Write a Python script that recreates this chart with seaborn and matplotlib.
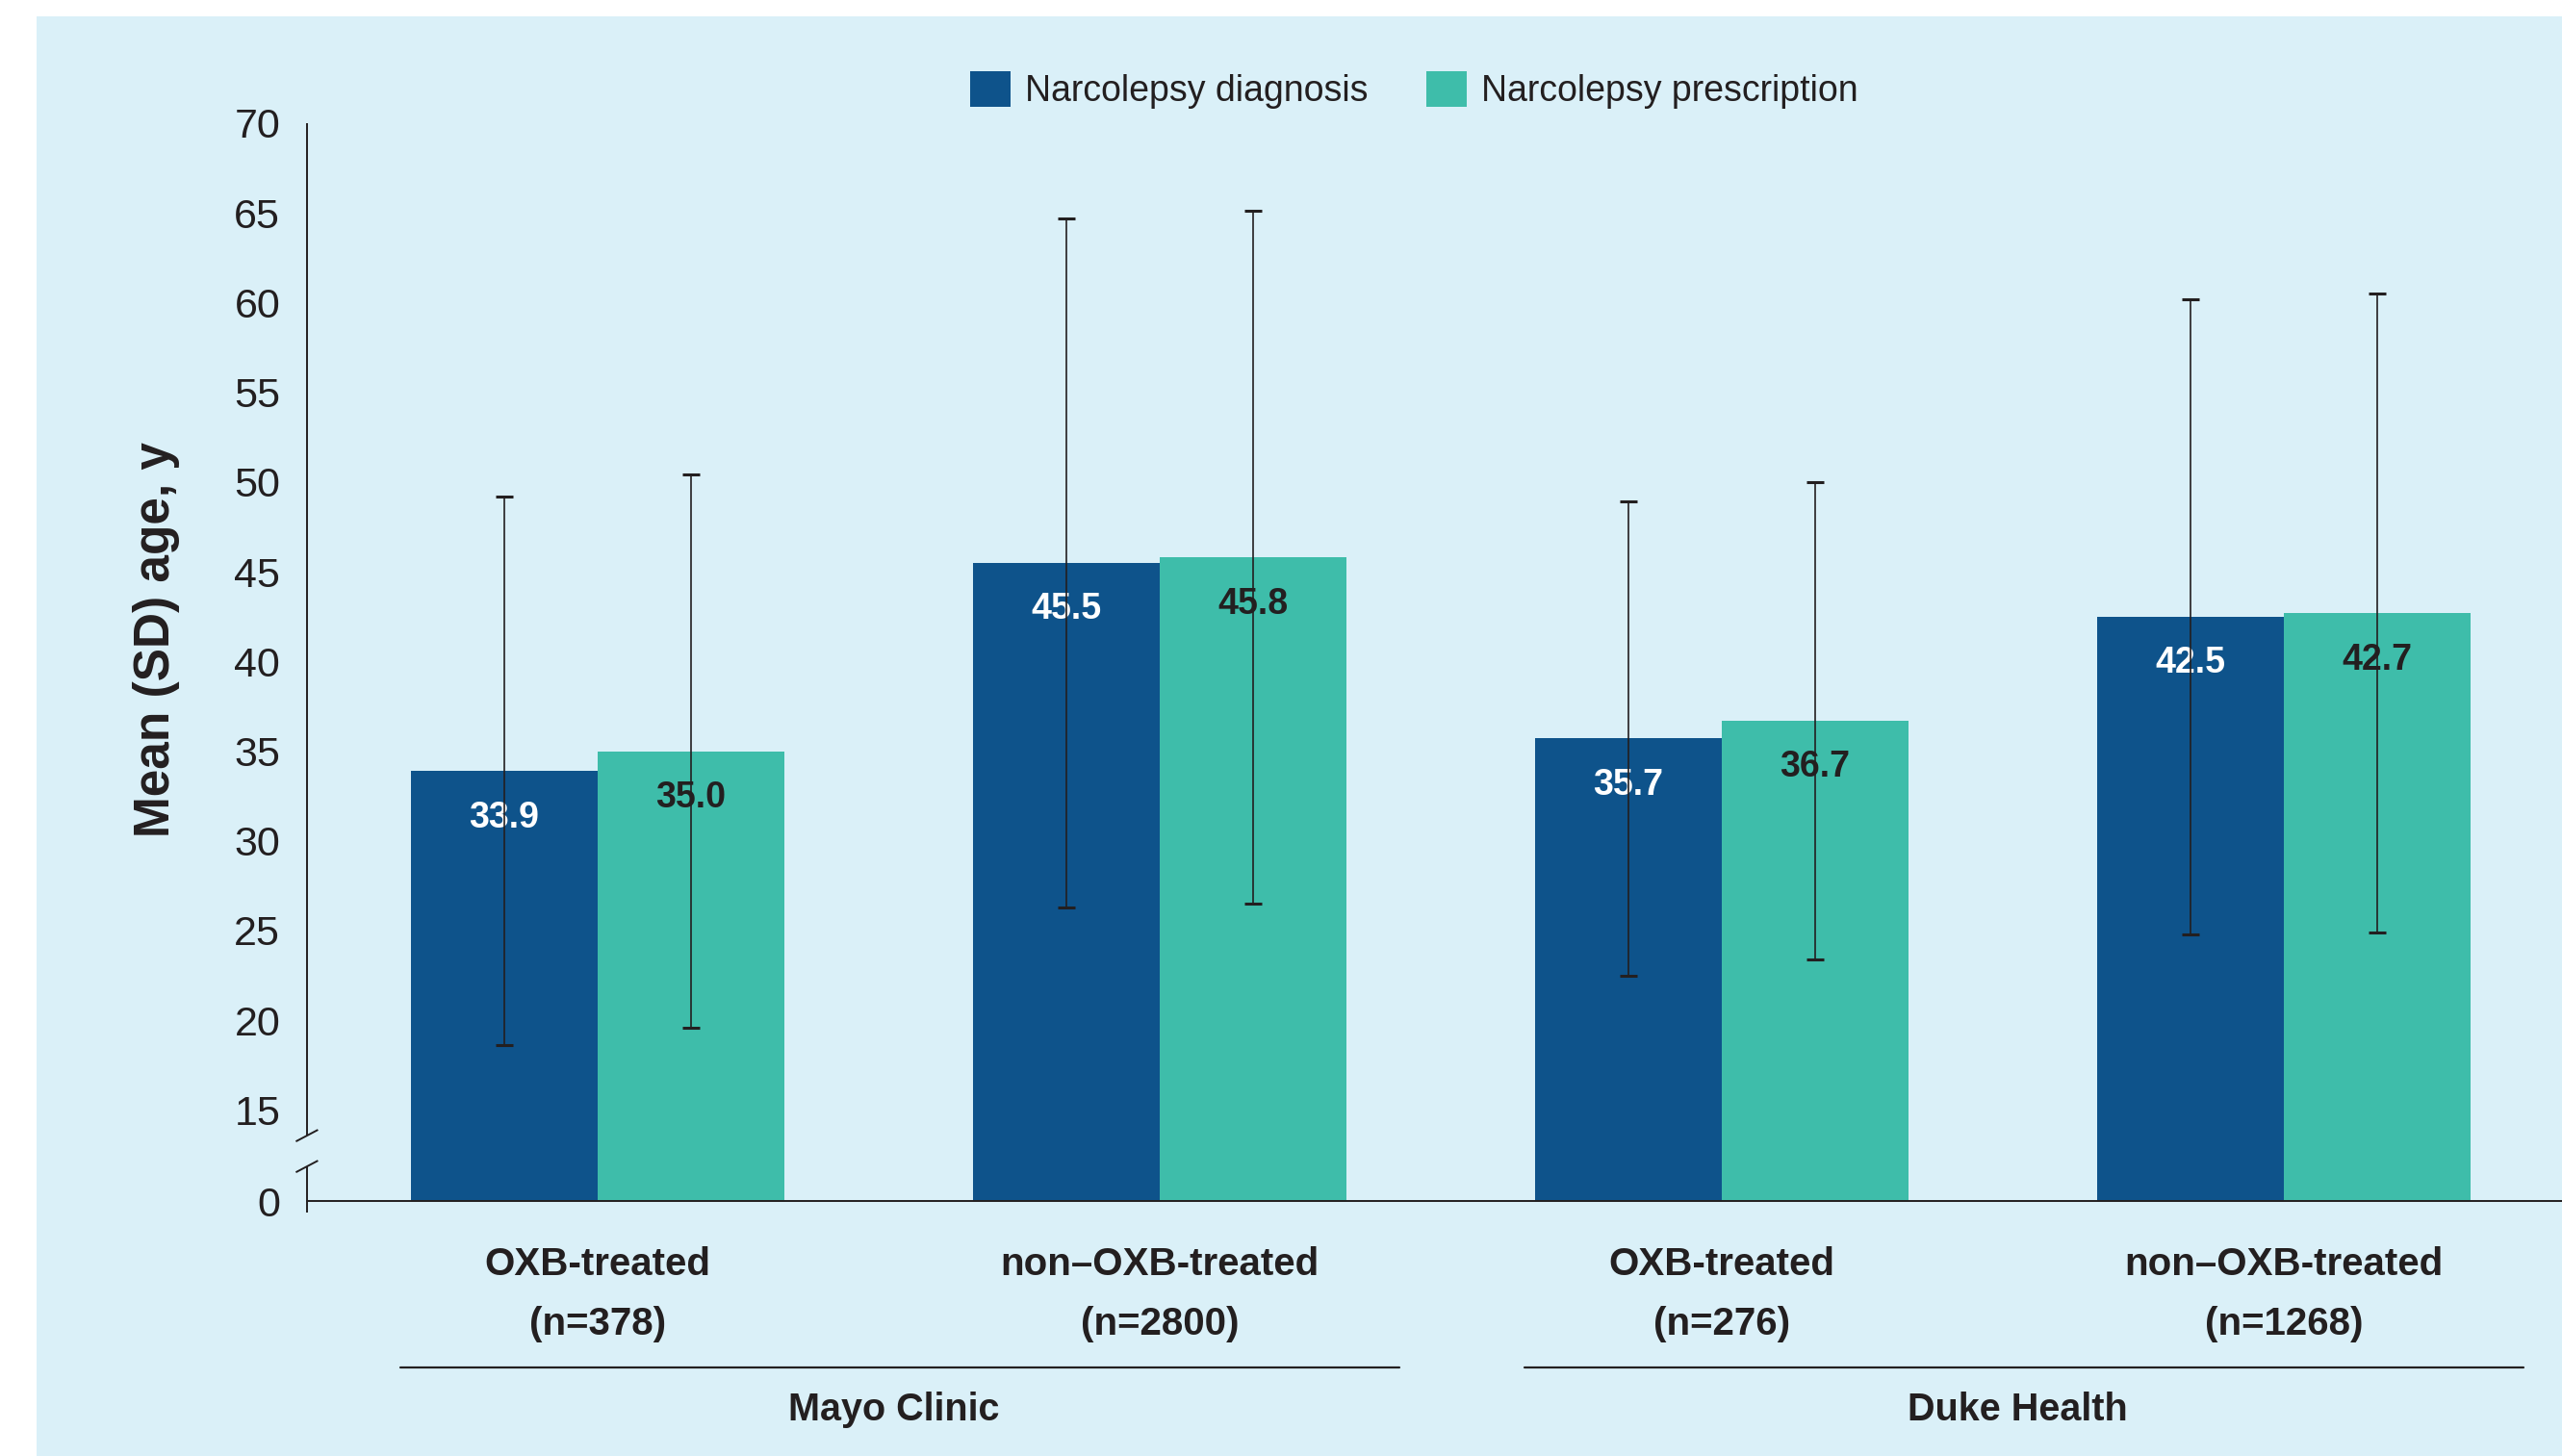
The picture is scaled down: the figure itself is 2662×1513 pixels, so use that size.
import numpy as np
import pandas as pd
import matplotlib
matplotlib.use("Agg")
import matplotlib.pyplot as plt
from matplotlib.patches import Rectangle
import seaborn as sns

# data
cohorts = ["OXB-treated\n(n=378)", "non\u2013OXB-treated\n(n=2800)",
           "OXB-treated\n(n=276)", "non\u2013OXB-treated\n(n=1268)"]
sites = ["Mayo Clinic", "Duke Health"]
site_cohorts = [(0, 1), (2, 3)]
measures = ["Narcolepsy diagnosis", "Narcolepsy prescription"]
diag_mean = [33.9, 45.5, 35.7, 42.5]
diag_sd = [15.3, 19.2, 13.2, 17.7]
presc_mean = [35.0, 45.8, 36.7, 42.7]
presc_sd = [15.4, 19.3, 13.3, 17.8]
yticks = [0, 15, 20, 25, 30, 35, 40, 45, 50, 55, 60, 65, 70]

DARK = "#0E538B"
TEAL = "#3EBDAA"
BG = "#DAF0F8"
INK = "#231F20"

df = pd.DataFrame({
    "cohort": cohorts * 2,
    "measure": [measures[0]] * 4 + [measures[1]] * 4,
    "mean": diag_mean + presc_mean,
    "sd": diag_sd + presc_sd,
})

sns.set_style("white")
plt.rcParams["font.family"] = ["Liberation Sans", "DejaVu Sans"]
plt.rcParams["text.color"] = INK

fig = plt.figure(figsize=(26.62, 15.13), dpi=100)
fig.add_artist(Rectangle((0.0143, 0), 1, 0.9888, transform=fig.transFigure,
                         facecolor=BG, edgecolor="none", zorder=-1))
ax = fig.add_axes([0.1198, 0.1751, 0.8802, 0.7403])
ax.set_facecolor("none")

# broken axis: compress 0-15 into a short stretch
GAP = 5.08
def fwd(y):
    y = np.asarray(y, dtype=float)
    return np.where(y >= 15, y, 15 - (15 - y) * GAP / 15)
def inv(y):
    y = np.asarray(y, dtype=float)
    return np.where(y >= 15, y, 15 - (15 - y) * 15 / GAP)
ax.set_yscale("function", functions=(fwd, inv))

sns.barplot(data=df, x="cohort", y="mean", hue="measure", hue_order=measures,
            palette=[DARK, TEAL], width=0.665, saturation=1, errorbar=None,
            linewidth=0, ax=ax)

label_colors = ["white", INK]
sd_lists = [diag_sd, presc_sd]
for cont, sds, lc in zip(ax.containers, sd_lists, label_colors):
    xs = [b.get_x() + b.get_width() / 2 for b in cont]
    hs = [b.get_height() for b in cont]
    ax.errorbar(xs, hs, yerr=sds, fmt="none", ecolor=INK, elinewidth=1.2,
                capsize=6.5, capthick=2.2, zorder=4)
    for x, h in zip(xs, hs):
        ax.annotate(f"{h:.1f}", (x, h), xytext=(0, -35), textcoords="offset points",
                    ha="center", va="center", fontsize=27, fontweight="bold",
                    color=lc, zorder=3)

ax.set_ylim(0, 70)
ax.set_xlim(-0.517, 3.495)
ax.set_yticks(yticks)
ax.tick_params(axis="y", length=10, width=1.4, color=INK, pad=10, labelsize=31,
               labelcolor=INK)
ax.set_xticks(range(len(cohorts)), cohorts)
ax.set_xticks([0.49, 1.49, 2.49], minor=True)
ax.tick_params(axis="x", which="major", length=0, pad=34, labelsize=29, labelcolor=INK)
ax.tick_params(axis="x", which="minor", length=8.6, width=1.4, color=INK, direction="out")
for lab in ax.get_xticklabels():
    lab.set_fontweight("bold")
    lab.set_linespacing(1.8)
ax.set_xlabel("")
ax.set_ylabel("")

for s in ["top", "right", "left"]:
    ax.spines[s].set_visible(False)
ax.spines["bottom"].set_linewidth(1.4)
ax.spines["bottom"].set_color(INK)

# left spine with break marks
kw = dict(transform=ax.transAxes, clip_on=False, color=INK, lw=1.4, solid_capstyle="butt")
ax.plot([0, 0], [1.0, 0.0607], **kw)
ax.plot([0, 0], [0.0321, -0.0107], **kw)
for yc in [0.0607, 0.0321]:
    ax.plot([-0.0049, 0.0049], [yc - 0.0054, yc + 0.0054], **kw)

fig.text(0.0609, 0.561, "Mean (SD) age, y", rotation=90, ha="center", va="center",
         fontsize=37, fontweight="bold", color=INK)

# site brackets under the cohort labels
xt = ax.get_xaxis_transform()
for site, (a, b) in zip(sites, site_cohorts):
    ax.plot([a - 0.35, b + 0.427], [-0.1545, -0.1545], transform=xt, clip_on=False,
            color=INK, lw=1.6)
    ax.text((a + b) / 2 + 0.027, -0.194, site, transform=xt, ha="center", va="center",
            fontsize=28.5, fontweight="bold", color=INK)

handles, labels = ax.get_legend_handles_labels()
ax.legend_.remove()
fig.legend(handles, labels, loc="center", bbox_to_anchor=(0.552, 0.938), ncol=2,
           frameon=False, fontsize=27, handlelength=1.12, handleheight=1.15,
           handletextpad=0.4, columnspacing=1.6)

fig.savefig("out.png", dpi=100)
